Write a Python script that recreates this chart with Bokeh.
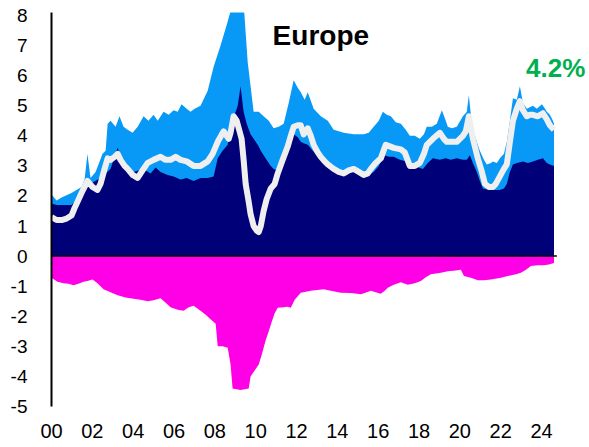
from bokeh.plotting import figure
from bokeh.models import Range1d, FixedTicker, Label
from bokeh.embed import file_html
from bokeh.resources import INLINE

# ---- data ----
total_years = [2000.00, 2000.25, 2000.49, 2000.98, 2001.47, 2001.62, 2001.76, 2001.91, 2002.16, 2002.50,
               2002.65, 2002.75, 2002.89, 2003.14, 2003.33, 2003.53, 2003.73, 2003.97, 2004.22, 2004.51,
               2004.75, 2005.00, 2005.20, 2005.49, 2005.74, 2005.98, 2006.18, 2006.37, 2006.62, 2006.81,
               2007.01, 2007.30, 2007.65, 2007.94, 2008.28, 2008.63, 2008.87, 2009.41, 2009.61, 2009.90,
               2010.15, 2010.39, 2010.64, 2010.88, 2011.13, 2011.37, 2011.62, 2011.86, 2012.06, 2012.21,
               2012.40, 2012.55, 2012.84, 2013.19, 2013.53, 2013.82, 2014.07, 2014.31, 2014.80, 2015.29,
               2015.54, 2015.78, 2016.03, 2016.23, 2016.42, 2016.62, 2016.86, 2017.11, 2017.35, 2017.55,
               2017.79, 2018.04, 2018.24, 2018.38, 2018.63, 2018.87, 2019.12, 2019.31, 2019.41, 2019.61,
               2019.85, 2020.15, 2020.34, 2020.44, 2020.54, 2020.64, 2020.83, 2020.98, 2021.18, 2021.32,
               2021.52, 2021.62, 2021.81, 2021.96, 2022.16, 2022.30, 2022.45, 2022.60, 2022.79, 2022.94,
               2023.09, 2023.28, 2023.43, 2023.58, 2023.77, 2024.02, 2024.17, 2024.26, 2024.41, 2024.56,
               2024.61]
total_values = [2.05, 1.85, 1.95, 2.1, 2.3, 2.55, 3.4, 2.6, 2.8, 3.4,
                3.5, 4.4, 4.5, 4.3, 4.65, 4.3, 4.2, 4.1, 4.3, 4.65,
                4.5, 4.7, 4.5, 4.8, 4.7, 4.85, 4.8, 5.05, 4.9, 4.8,
                4.9, 5.0, 5.5, 6.3, 7.0, 7.8, 8.4, 8.4, 6.45, 4.8,
                4.8, 4.65, 4.5, 4.25, 4.3, 4.4, 5.1, 5.85, 5.6, 5.45,
                5.2, 5.45, 4.9, 4.65, 4.5, 4.2, 4.15, 4.1, 4.05, 4.05,
                4.1, 4.3, 4.5, 4.8, 4.7, 4.65, 4.45, 4.4, 4.2, 4.0,
                4.0, 3.9, 4.05, 4.3, 4.3, 4.4, 4.85, 4.5, 4.3, 4.25,
                4.3, 4.65, 4.8, 5.35, 4.7, 4.25, 3.8, 3.5, 3.2, 3.05,
                3.1, 3.15, 3.1, 3.25, 3.4, 3.8, 4.5, 5.25, 5.2, 5.65,
                5.1, 4.9, 4.95, 5.0, 4.9, 5.05, 4.9, 4.8, 4.7, 4.5,
                4.4]

core_years = [2000.00, 2000.25, 2000.49, 2000.98, 2001.27, 2001.47, 2001.76, 2002.01, 2002.40, 2002.65,
              2002.89, 2003.09, 2003.24, 2003.43, 2003.63, 2004.02, 2004.26, 2004.51, 2004.85, 2005.10,
              2005.34, 2005.69, 2005.98, 2006.32, 2006.62, 2006.96, 2007.30, 2007.65, 2007.94, 2008.14,
              2008.38, 2008.63, 2008.92, 2009.12, 2009.26, 2009.41, 2009.56, 2009.75, 2009.90, 2010.10,
              2010.25, 2010.39, 2010.59, 2010.74, 2010.88, 2011.08, 2011.23, 2011.37, 2011.57, 2011.72,
              2011.86, 2012.06, 2012.21, 2012.35, 2012.55, 2012.79, 2013.04, 2013.28, 2013.53, 2013.82,
              2014.17, 2014.41, 2014.66, 2014.95, 2015.29, 2015.54, 2015.78, 2016.03, 2016.27, 2016.52,
              2016.76, 2017.06, 2017.40, 2017.79, 2018.19, 2018.43, 2018.68, 2019.02, 2019.31, 2019.56,
              2019.85, 2020.15, 2020.34, 2020.49, 2020.64, 2020.83, 2020.98, 2021.13, 2021.47, 2021.76,
              2021.96, 2022.16, 2022.30, 2022.45, 2022.60, 2022.79, 2023.09, 2023.33, 2023.58, 2023.82,
              2024.07, 2024.26, 2024.41, 2024.61]
core_values = [1.75, 1.7, 1.7, 1.7, 1.9, 2.2, 2.5, 2.45, 2.6, 2.75,
               2.9, 3.3, 3.6, 3.2, 3.0, 2.8, 2.85, 2.9, 2.75, 2.95,
               2.8, 2.7, 2.65, 2.55, 2.6, 2.5, 2.6, 2.6, 2.65, 3.25,
               3.5, 3.7, 4.6, 5.0, 5.65, 4.8, 4.4, 4.05, 3.9, 3.7,
               3.5, 3.35, 3.15, 3.0, 2.9, 2.85, 3.05, 3.3, 3.6, 3.9,
               4.05, 3.95, 3.8, 3.75, 3.7, 3.5, 3.35, 3.25, 3.15, 2.95,
               2.8, 2.85, 2.9, 2.8, 2.65, 2.7, 2.8, 3.0, 3.35, 3.3,
               3.3, 3.2, 3.15, 3.0, 2.9, 3.1, 3.25, 3.2, 3.25, 3.2,
               3.25, 3.2, 3.2, 3.35, 3.1, 2.8, 2.5, 2.25, 2.2, 2.2,
               2.2, 2.25, 2.4, 2.8, 3.05, 3.1, 3.15, 3.1, 3.15, 3.2,
               3.25, 3.1, 3.05, 3.0]

line_years = [2000.00, 2000.25, 2000.49, 2000.74, 2000.98, 2001.13, 2001.27, 2001.47, 2001.62, 2001.76,
              2002.01, 2002.25, 2002.40, 2002.60, 2002.75, 2002.89, 2003.09, 2003.24, 2003.38, 2003.58,
              2003.73, 2003.97, 2004.22, 2004.46, 2004.71, 2005.00, 2005.34, 2005.59, 2005.83, 2006.08,
              2006.32, 2006.62, 2006.96, 2007.30, 2007.65, 2007.89, 2008.14, 2008.43, 2008.68, 2008.77,
              2008.92, 2009.07, 2009.17, 2009.31, 2009.41, 2009.51, 2009.66, 2009.75, 2009.90, 2010.05,
              2010.15, 2010.25, 2010.39, 2010.54, 2010.74, 2010.93, 2011.08, 2011.32, 2011.57, 2011.72,
              2011.86, 2012.06, 2012.21, 2012.35, 2012.55, 2012.70, 2012.84, 2013.04, 2013.19, 2013.38,
              2013.53, 2013.82, 2014.07, 2014.31, 2014.56, 2014.80, 2015.05, 2015.29, 2015.49, 2015.64,
              2015.88, 2016.13, 2016.37, 2016.57, 2016.76, 2017.11, 2017.30, 2017.55, 2017.79, 2018.04,
              2018.24, 2018.38, 2018.68, 2019.02, 2019.22, 2019.36, 2019.61, 2019.85, 2020.15, 2020.29,
              2020.44, 2020.54, 2020.64, 2020.88, 2021.08, 2021.23, 2021.42, 2021.62, 2021.76, 2021.96,
              2022.16, 2022.30, 2022.45, 2022.60, 2022.79, 2022.94, 2023.09, 2023.28, 2023.43, 2023.58,
              2023.82, 2024.07, 2024.26, 2024.41, 2024.61]
line_values = [1.3, 1.2, 1.2, 1.25, 1.35, 1.6, 1.8, 2.1, 2.3, 2.5,
               2.3, 2.2, 2.4, 2.9, 3.25, 3.2, 3.3, 3.4, 3.2, 3.0,
               2.9, 2.7, 2.6, 2.85, 3.1, 3.2, 3.3, 3.2, 3.2, 3.3,
               3.2, 3.15, 3.0, 3.0, 3.15, 3.4, 3.8, 4.15, 3.9, 4.1,
               4.65, 4.5, 4.25, 3.9, 3.2, 2.4, 1.8, 1.4, 1.0, 0.85,
               0.8, 1.0, 1.5, 1.9, 2.25, 2.4, 2.75, 3.2, 3.65, 4.0,
               4.3, 4.35, 4.35, 4.05, 4.25, 4.0, 3.7, 3.45, 3.3, 3.15,
               3.05, 2.9, 2.8, 2.75, 2.85, 2.9, 2.8, 2.7, 2.75, 2.9,
               3.1, 3.25, 3.7, 3.65, 3.6, 3.55, 3.45, 3.0, 3.0, 3.1,
               3.4, 3.7, 3.9, 4.1, 3.9, 3.8, 3.8, 3.8, 4.0, 4.15,
               4.65, 4.3, 3.9, 3.25, 2.8, 2.4, 2.3, 2.3, 2.4, 2.65,
               2.9, 3.05, 3.8, 4.5, 4.9, 5.15, 4.85, 4.65, 4.7, 4.7,
               4.65, 4.75, 4.55, 4.35, 4.2]

neg_years = [2000.00, 2000.29, 2000.59, 2000.83, 2001.08, 2001.32, 2001.57, 2001.76, 2002.01, 2002.25,
             2002.55, 2002.89, 2003.24, 2003.63, 2004.02, 2004.36, 2004.71, 2005.00, 2005.34, 2005.59,
             2005.83, 2006.18, 2006.47, 2006.72, 2006.96, 2007.30, 2007.55, 2007.79, 2008.04, 2008.14,
             2008.38, 2008.63, 2008.77, 2008.87, 2009.26, 2009.66, 2009.75, 2009.95, 2010.15, 2010.29,
             2010.39, 2010.49, 2010.64, 2010.78, 2010.93, 2011.08, 2011.37, 2011.57, 2011.72, 2011.91,
             2012.21, 2012.70, 2013.33, 2013.68, 2014.17, 2014.66, 2015.15, 2015.44, 2015.64, 2015.88,
             2016.13, 2016.32, 2016.47, 2016.76, 2017.11, 2017.45, 2017.79, 2018.09, 2018.33, 2018.58,
             2019.07, 2019.41, 2019.80, 2020.05, 2020.20, 2020.54, 2020.88, 2021.18, 2021.52, 2022.01,
             2022.35, 2022.75, 2022.99, 2023.24, 2023.48, 2023.82, 2024.12, 2024.36, 2024.61]
neg_values = [-0.72, -0.85, -0.9, -0.92, -0.97, -0.92, -0.85, -0.83, -0.78, -0.9,
              -1.1, -1.2, -1.3, -1.38, -1.42, -1.45, -1.5, -1.47, -1.4, -1.55,
              -1.7, -1.78, -1.82, -1.7, -1.65, -1.82, -1.95, -2.1, -2.25, -3.0,
              -3.0, -3.05, -3.6, -4.4, -4.45, -4.4, -4.0, -3.8, -3.6, -3.3,
              -3.05, -2.8, -2.5, -2.2, -1.9, -1.72, -1.7, -1.68, -1.72, -1.45,
              -1.22, -1.15, -1.1, -1.15, -1.22, -1.23, -1.27, -1.2, -1.15, -1.2,
              -1.25, -1.15, -1.05, -0.95, -0.87, -0.95, -0.9, -0.83, -0.7, -0.6,
              -0.55, -0.5, -0.48, -0.45, -0.66, -0.72, -0.8, -0.8, -0.78, -0.72,
              -0.66, -0.6, -0.55, -0.45, -0.33, -0.3, -0.3, -0.28, -0.23]

x_ticks = [2000, 2002, 2004, 2006, 2008, 2010, 2012, 2014, 2016, 2018, 2020, 2022, 2024]
x_tick_labels = ["00", "02", "04", "06", "08", "10", "12", "14", "16", "18", "20", "22", "24"]
y_ticks = [-5, -4, -3, -2, -1, 0, 1, 2, 3, 4, 5, 6, 7, 8]
y_tick_labels = ["-5", "-4", "-3", "-2", "-1", "0", "1", "2", "3", "4", "5", "6", "7", "8"]
zero_line_x = [2000.0, 2024.75]
title_text = "Europe"
latest_text = "4.2%"

# ---- figure ----
p = figure(width=589, height=447, output_backend="svg", toolbar_location=None,
           x_range=Range1d(2000, 2026.35), y_range=Range1d(-5, 8.1),
           min_border_left=51, min_border_right=0, min_border_top=12, min_border_bottom=41)
p.outline_line_color = None
p.xgrid.visible = False
p.ygrid.visible = False
p.background_fill_color = "white"

p.varea(x=total_years, y1=[0] * len(total_years), y2=total_values, fill_color="#0899F7")
p.varea(x=core_years, y1=[0] * len(core_years), y2=core_values, fill_color="#000078")
p.varea(x=neg_years, y1=neg_values, y2=[0] * len(neg_years), fill_color="#FF00E6")
p.line(x=line_years, y=line_values, line_color="#EFEFEF", line_width=6, line_join="round")
p.line(x=zero_line_x, y=[0, 0], line_color="black", line_width=1.5)

font = "Liberation Sans"
xa = p.xaxis[0]
xa.ticker = FixedTicker(ticks=x_ticks)
xa.major_label_overrides = {t: l for t, l in zip(x_ticks, x_tick_labels)}
xa.axis_line_color = None
xa.major_tick_line_color = None
xa.minor_tick_line_color = None
xa.major_label_text_font = font
xa.major_label_text_font_size = "20px"
xa.major_label_text_color = "black"
xa.major_label_standoff = 11

ya = p.yaxis[0]
ya.ticker = FixedTicker(ticks=y_ticks)
ya.major_label_overrides = {t: l for t, l in zip(y_ticks, y_tick_labels)}
ya.axis_line_color = "black"
ya.axis_line_width = 2
ya.major_tick_line_color = None
ya.minor_tick_line_color = None
ya.major_label_text_font = font
ya.major_label_text_font_size = "19px"
ya.major_label_text_color = "black"
ya.major_label_standoff = 18

p.add_layout(Label(x=2010.83, y=7.32, text=title_text, text_font=font, text_font_size="28px",
                   text_font_style="bold", text_color="black", text_baseline="middle", text_align="left"))
p.add_layout(Label(x=2023.24, y=6.25, text=latest_text, text_font=font, text_font_size="26px",
                   text_font_style="bold", text_color="#00B050", text_baseline="middle", text_align="left"))

open("out.html", "w").write(file_html(p, INLINE))
